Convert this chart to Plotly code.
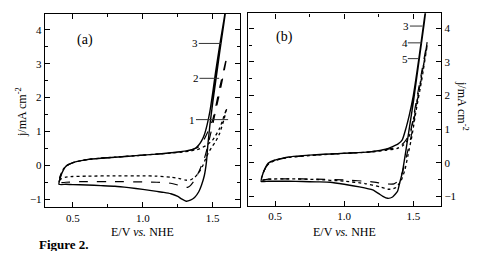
import plotly.graph_objects as go

# ---------------- data ----------------
# Panel (a)
E_a1 = [0.40, 0.41, 0.43, 0.45, 0.50, 0.55, 0.60, 0.70, 0.80, 0.90, 1.00, 1.10, 1.20, 1.30, 1.35, 1.40, 1.45, 1.50, 1.55, 1.58, 1.60,
        1.58, 1.55, 1.52, 1.50, 1.47, 1.45, 1.43, 1.40, 1.37, 1.34, 1.31, 1.27, 1.20, 1.10, 1.00, 0.80, 0.60, 0.50, 0.45, 0.42, 0.40]
j_a1 = [-0.45, -0.30, -0.12, -0.02, 0.08, 0.13, 0.17, 0.21, 0.24, 0.27, 0.30, 0.33, 0.36, 0.40, 0.43, 0.48, 0.58, 0.75, 1.10, 1.45, 1.68,
        1.35, 0.95, 0.70, 0.58, 0.38, 0.20, 0.00, -0.22, -0.36, -0.43, -0.44, -0.40, -0.35, -0.32, -0.31, -0.31, -0.32, -0.33, -0.35, -0.39, -0.45]

E_a2 = [0.40, 0.41, 0.43, 0.45, 0.50, 0.55, 0.60, 0.70, 0.80, 0.90, 1.00, 1.10, 1.20, 1.30, 1.35, 1.40, 1.43, 1.46, 1.50, 1.55, 1.60,
        1.58, 1.55, 1.52, 1.50, 1.48, 1.46, 1.44, 1.42, 1.40, 1.37, 1.34, 1.32, 1.29, 1.25, 1.20, 1.10, 1.00, 0.80, 0.60, 0.50, 0.45, 0.42, 0.40]
j_a2 = [-0.50, -0.33, -0.13, -0.02, 0.08, 0.13, 0.17, 0.21, 0.24, 0.27, 0.30, 0.33, 0.37, 0.42, 0.46, 0.55, 0.70, 0.95, 1.35, 2.30, 3.20,
        2.75, 2.15, 1.60, 1.20, 0.85, 0.50, 0.20, 0.00, -0.20, -0.44, -0.60, -0.65, -0.64, -0.58, -0.53, -0.50, -0.49, -0.48, -0.48, -0.49, -0.50, -0.51, -0.52]

E_a3 = [0.40, 0.41, 0.43, 0.45, 0.50, 0.55, 0.60, 0.70, 0.80, 0.90, 1.00, 1.10, 1.20, 1.30, 1.35, 1.38, 1.40, 1.42, 1.44, 1.46, 1.48, 1.50, 1.52, 1.55, 1.58, 1.60,
        1.58, 1.55, 1.52, 1.50, 1.48, 1.465, 1.455, 1.44, 1.42, 1.40, 1.37, 1.34, 1.31, 1.28, 1.25, 1.20, 1.15, 1.10, 1.00, 0.90, 0.80, 0.70, 0.60, 0.50, 0.45, 0.40]
j_a3 = [-0.56, -0.36, -0.15, -0.03, 0.08, 0.13, 0.17, 0.21, 0.24, 0.27, 0.30, 0.33, 0.37, 0.42, 0.46, 0.52, 0.60, 0.72, 0.90, 1.20, 1.60, 2.15, 2.75, 3.55, 4.30, 4.80,
        4.20, 3.35, 2.45, 1.85, 1.20, 0.60, 0.10, -0.30, -0.58, -0.78, -0.95, -1.03, -1.06, -1.00, -0.92, -0.84, -0.80, -0.77, -0.71, -0.66, -0.62, -0.60, -0.58, -0.57, -0.56, -0.56]

# Panel (b)
E_b3 = [0.40, 0.41, 0.43, 0.45, 0.50, 0.55, 0.60, 0.70, 0.80, 0.90, 1.00, 1.10, 1.20, 1.30, 1.35, 1.39, 1.42, 1.447, 1.47, 1.50, 1.54, 1.57, 1.60,
        1.58, 1.55, 1.52, 1.50, 1.47, 1.447, 1.42, 1.40, 1.386, 1.35, 1.314, 1.28, 1.25, 1.206, 1.11, 1.00, 0.90, 0.80, 0.70, 0.60, 0.50, 0.45, 0.40]
j_b3 = [-0.56, -0.36, -0.15, -0.02, 0.08, 0.13, 0.17, 0.21, 0.24, 0.26, 0.28, 0.30, 0.33, 0.40, 0.48, 0.56, 0.68, 1.03, 1.40, 2.00, 3.10, 4.00, 4.90,
        4.20, 3.30, 2.40, 1.80, 1.00, 0.38, -0.30, -0.62, -0.85, -1.02, -1.06, -1.00, -0.92, -0.81, -0.72, -0.64, -0.58, -0.57, -0.56, -0.55, -0.55, -0.55, -0.56]

E_b4 = [0.40, 0.42, 0.45, 0.50, 0.60, 0.80, 1.00, 1.20, 1.30, 1.38, 1.42, 1.45, 1.48, 1.52, 1.56, 1.60,
        1.56, 1.52, 1.49, 1.46, 1.44, 1.42, 1.39, 1.36, 1.30, 1.20, 1.00, 0.80, 0.60, 0.45, 0.40]
j_b4 = [-0.52, -0.25, -0.05, 0.07, 0.16, 0.23, 0.28, 0.33, 0.39, 0.46, 0.55, 0.70, 0.95, 1.80, 2.70, 3.60,
        2.55, 1.65, 0.90, 0.35, 0.02, -0.30, -0.55, -0.63, -0.63, -0.57, -0.51, -0.49, -0.48, -0.49, -0.52]

E_b5 = [0.40, 0.42, 0.45, 0.50, 0.60, 0.80, 1.00, 1.20, 1.30, 1.38, 1.42, 1.45, 1.48, 1.52, 1.56, 1.60,
        1.56, 1.52, 1.49, 1.46, 1.44, 1.41, 1.37, 1.32, 1.26, 1.15, 1.00, 0.80, 0.60, 0.45, 0.40]
j_b5 = [-0.52, -0.25, -0.05, 0.07, 0.16, 0.23, 0.28, 0.32, 0.37, 0.42, 0.50, 0.62, 0.90, 1.70, 2.60, 3.50,
        2.45, 1.55, 0.80, 0.20, -0.20, -0.55, -0.75, -0.79, -0.72, -0.62, -0.55, -0.50, -0.48, -0.49, -0.52]

# curve labels: (number, text E, line start E, line end E, j)
labels_a = [("3", 1.37, 1.40, 1.56, 3.60), ("2", 1.38, 1.405, 1.546, 2.57), ("1", 1.355, 1.38, 1.61, 1.35)]
labels_b = [("3", 1.445, 1.475, 1.566, 4.07), ("4", 1.44, 1.46, 1.56, 3.57), ("5", 1.44, 1.46, 1.54, 3.10)]

x_ticks = [0.5, 1.0, 1.5]
y_ticks = [-1, 0, 1, 2, 3, 4]

# ---------------- figure ----------------
# page body has an 8px default margin: lay out in window pixels minus that offset
OFF = 8
W, H = 487 - 2 * OFF, 259 - 2 * OFF
FONT = "Liberation Serif"

def px(x):
    return (x - OFF) / W

def py(y):
    return 1 - (y - OFF) / H

fig = go.Figure()

def add(E, j, dash, width, xa, ya):
    fig.add_trace(go.Scatter(x=E, y=j, mode="lines", xaxis=xa, yaxis=ya,
                             line=dict(color="black", width=width, dash=dash, shape="spline", smoothing=0.5),
                             showlegend=False, hoverinfo="skip"))

add(E_a1, j_a1, "dot", 1.3, "x", "y")
add(E_a2, j_a2, "dash", 1.2, "x", "y")
add(E_a3, j_a3, "solid", 1.4, "x", "y")
add(E_b5, j_b5, "dot", 1.3, "x2", "y2")
add(E_b4, j_b4, "dash", 1.2, "x2", "y2")
add(E_b3, j_b3, "solid", 1.4, "x2", "y2")

axis_common = dict(showline=True, linecolor="black", linewidth=1.4, mirror="allticks",
                   ticks="inside", ticklen=5, tickwidth=1, tickcolor="black",
                   showgrid=False, zeroline=False,
                   tickfont=dict(family=FONT, size=11, color="black"))

fig.update_layout(
    width=W, height=H, margin=dict(l=0, r=0, t=0, b=0, autoexpand=False),
    paper_bgcolor="white", plot_bgcolor="white",
    xaxis=dict(domain=[px(45), px(240)], range=[0.3, 1.695], anchor="y",
               tickvals=x_ticks, ticktext=["0.5", "1.0", "1.5"],
               minor=dict(ticks="inside", dtick=0.25, tick0=0.25, ticklen=3, tickcolor="black"),
               **axis_common),
    yaxis=dict(domain=[py(207.3), py(14)], range=[-1.24, 4.47], anchor="x",
               tickvals=y_ticks,
               minor=dict(ticks="inside", dtick=0.5, tick0=0.5, ticklen=3, tickcolor="black"),
               **axis_common),
    xaxis2=dict(domain=[px(248.3), px(441)], range=[0.307, 1.70], anchor="y2",
                tickvals=x_ticks, ticktext=["0.5", "1.0", "1.5"],
                minor=dict(ticks="inside", dtick=0.25, tick0=0.25, ticklen=3, tickcolor="black"),
                **axis_common),
    yaxis2=dict(domain=[py(205.7), py(13.3)], range=[-1.28, 4.45], anchor="x2",
                side="right", tickvals=y_ticks,
                minor=dict(ticks="inside", dtick=0.5, tick0=0.5, ticklen=3, tickcolor="black"),
                **axis_common),
)

ann = []
shapes = []
C = dict(xanchor="center", yanchor="middle", showarrow=False)
# axis titles
ann.append(dict(text="E/V <i>vs.</i> NHE", x=px(142), y=py(232), xref="paper", yref="paper",
                font=dict(family=FONT, size=12, color="black"), **C))
ann.append(dict(text="E/V <i>vs.</i> NHE", x=px(344), y=py(232), xref="paper", yref="paper",
                font=dict(family=FONT, size=12, color="black"), **C))
ann.append(dict(text="j/mA cm<sup>-2</sup>", x=px(21), y=py(112), xref="paper", yref="paper",
                textangle=-90, font=dict(family=FONT, size=12, color="black"), **C))
ann.append(dict(text="j/mA cm<sup>-2</sup>", x=px(462), y=py(106), xref="paper", yref="paper",
                textangle=90, font=dict(family=FONT, size=12, color="black"), **C))
# panel letters
ann.append(dict(text="(a)", x=0.586, y=3.7, xref="x", yref="y",
                font=dict(family=FONT, size=14, color="black"), **C))
ann.append(dict(text="(b)", x=0.57, y=3.75, xref="x2", yref="y2",
                font=dict(family=FONT, size=14, color="black"), **C))
# figure caption
ann.append(dict(text="<b>Figure 2.</b>", x=px(37), y=py(244), xref="paper", yref="paper",
                xanchor="left", yanchor="middle", showarrow=False,
                font=dict(family=FONT, size=13, color="black")))

for lab, xt, x0, x1, yv in labels_a:
    ann.append(dict(text=lab, x=xt, y=yv, xref="x", yref="y",
                    font=dict(family=FONT, size=11, color="black"), **C))
    shapes.append(dict(type="line", xref="x", yref="y", x0=x0, x1=x1, y0=yv, y1=yv,
                       line=dict(color="#333333", width=1)))
for lab, xt, x0, x1, yv in labels_b:
    ann.append(dict(text=lab, x=xt, y=yv, xref="x2", yref="y2",
                    font=dict(family=FONT, size=11, color="black"), **C))
    shapes.append(dict(type="line", xref="x2", yref="y2", x0=x0, x1=x1, y0=yv, y1=yv,
                       line=dict(color="#333333", width=1)))

fig.update_layout(annotations=ann, shapes=shapes)
fig.write_html("out.html")
